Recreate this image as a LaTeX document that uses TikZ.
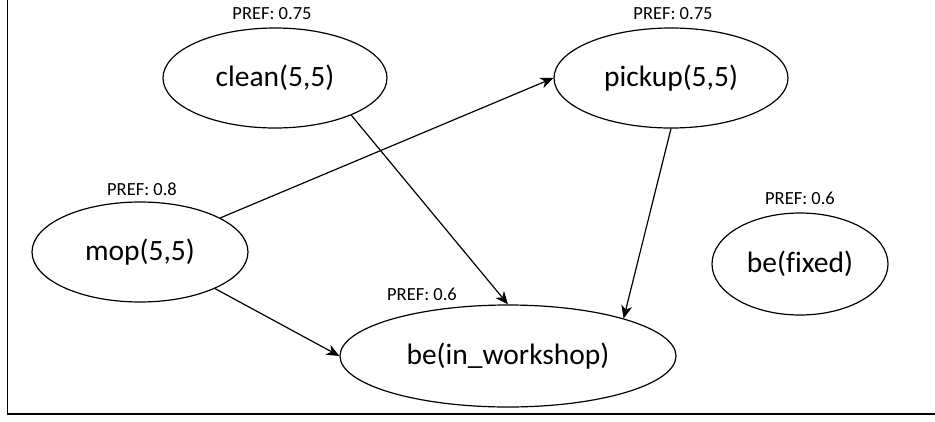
\documentclass[tikz,border=0pt]{standalone}
\usepackage{fontspec}
\setmainfont[Ligatures=NoCommon]{Carlito}
\usetikzlibrary{shapes.geometric,arrows.meta}
\tikzset{
  act/.style={draw, ellipse, line width=1.2pt, inner sep=0pt, font=\fontsize{29.5}{31}\selectfont},
  pref/.style={inner sep=0pt, font=\fontsize{18.5}{20}\selectfont},
  conn/.style={line width=1.2pt, -{Stealth[length=13pt,width=11pt,inset=4pt]}},
  frame/.style={line width=1.8pt}
}
\begin{document}
\begin{tikzpicture}[x=1pt,y=-1pt]
\useasboundingbox (0,0) rectangle (935,421);
\coordinate (ftop) at (7.5,0);
\coordinate (fcorner) at (7.5,414);
\coordinate (fright) at (935,414);
\draw[frame] (ftop) -- (fcorner) -- (fright);

\node[act, minimum width=224pt, minimum height=100pt] (clean) at (275,78) {clean(5,5)};
\node[act, minimum width=234pt, minimum height=100pt] (pickup) at (671,78) {pickup(5,5)};
\node[act, minimum width=216pt, minimum height=100pt] (mop) at (140,252) {mop(5,5)};
\node[act, minimum width=176pt, minimum height=102pt] (fixed) at (800,264) {be(fixed)};
\node[act, minimum width=336pt, minimum height=102pt] (work) at (508,356) {be(in\_workshop)};

\node[pref] (pclean) at (272,14) {PREF: 0.75};
\node[pref] (ppickup) at (673,14) {PREF: 0.75};
\node[pref] (pmop) at (142,189) {PREF: 0.8};
\node[pref] (pfixed) at (800,198) {PREF: 0.6};
\node[pref] (pwork) at (422,294) {PREF: 0.6};

\draw[conn] (mop.23.6) -- (pickup.180);
\draw[conn] (mop.-26.9) -- (work.180);
\draw[conn] (clean.-26.6) -- (work.90);
\draw[conn] (pickup.-90) -- (work.18);
\end{tikzpicture}
\end{document}
